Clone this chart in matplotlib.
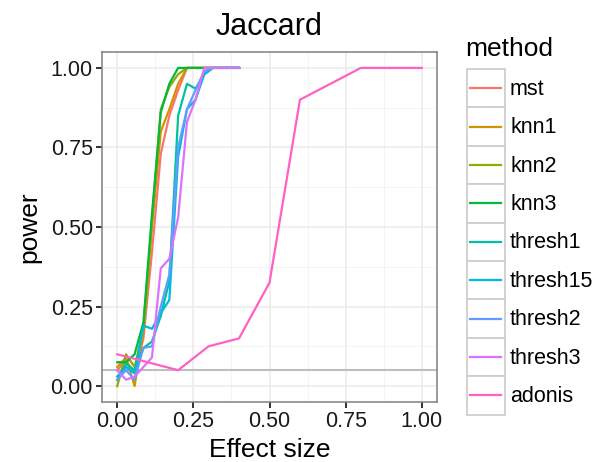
import matplotlib
matplotlib.use("Agg")
import matplotlib.pyplot as plt
from matplotlib.patches import Rectangle

# effect sizes used for the graph-based tests
effect = [0, 0.029, 0.057, 0.086, 0.114, 0.143, 0.171, 0.2, 0.229, 0.257,
          0.286, 0.314, 0.343, 0.371, 0.4]

mst = [0.05, 0.08, 0.04, 0.15, 0.42, 0.73, 0.85, 0.93, 1, 1, 1, 1, 1, 1, 1]
knn1 = [0.06, 0.09, 0.00, 0.17, 0.50, 0.80, 0.87, 0.95, 1, 1, 1, 1, 1, 1, 1]
knn2 = [0.00, 0.10, 0.06, 0.18, 0.52, 0.87, 0.94, 0.98, 1, 1, 1, 1, 1, 1, 1]
knn3 = [0.075, 0.075, 0.10, 0.20, 0.54, 0.86, 0.95, 1, 1, 1, 1, 1, 1, 1, 1]
thresh1 = [0.02, 0.07, 0.05, 0.12, 0.14, 0.22, 0.33, 0.85, 0.95, 0.935, 0.98, 1, 1, 1, 1]
thresh15 = [0.03, 0.06, 0.04, 0.19, 0.18, 0.23, 0.27, 0.72, 0.87, 0.90, 0.98, 1, 1, 1, 1]
thresh2 = [0.02, 0.05, 0.02, 0.12, 0.125, 0.25, 0.35, 0.75, 0.87, 0.93, 0.99, 1, 1, 1, 1]
thresh3 = [0.05, 0.02, 0.03, 0.06, 0.09, 0.37, 0.40, 0.53, 0.83, 0.90, 1, 1, 1, 1, 1]

# adonis was run on a wider range of effect sizes
adonis_effect = [0, 0.2, 0.3, 0.4, 0.5, 0.6, 0.8, 1.0]
adonis = [0.10, 0.05, 0.125, 0.15, 0.325, 0.90, 1.0, 1.0]

methods = ["mst", "knn1", "knn2", "knn3", "thresh1", "thresh15", "thresh2", "thresh3", "adonis"]
colors = ["#F8766D", "#D39200", "#93AA00", "#00BA38", "#00C19F", "#00B9E3", "#619CFF", "#DB72FB", "#FF61C3"]
alpha_level = 0.05

series = [mst, knn1, knn2, knn3, thresh1, thresh15, thresh2, thresh3]

plt.rcParams['font.family'] = ['Liberation Sans', 'DejaVu Sans']

fig = plt.figure(figsize=(5.96, 4.62), dpi=100)
W, H = 596, 462
ax = fig.add_axes([102 / W, 1 - 402 / H, (437 - 102) / W, (402 - 52) / H])

# grid like theme_bw
for v in [0.125, 0.375, 0.625, 0.875]:
    ax.axvline(v, color="#F2F2F2", lw=0.6, zorder=0)
    ax.axhline(v, color="#F2F2F2", lw=0.6, zorder=0)
for v in [0, 0.25, 0.5, 0.75, 1.0]:
    ax.axvline(v, color="#EBEBEB", lw=1.1, zorder=0)
    ax.axhline(v, color="#EBEBEB", lw=1.1, zorder=0)

for y, c in zip(series, colors[:8]):
    ax.plot(effect, y, color=c, lw=1.6, zorder=3)
ax.plot(adonis_effect, adonis, color=colors[8], lw=1.6, zorder=3)

ax.axhline(alpha_level, color="#BEBEBE", lw=1.5, zorder=2)

ax.set_xlim(-0.05, 1.05)
ax.set_ylim(-0.05, 1.05)
ax.set_xticks([0, 0.25, 0.5, 0.75, 1.0])
ax.set_yticks([0, 0.25, 0.5, 0.75, 1.0])
ax.set_xticklabels(["0.00", "0.25", "0.50", "0.75", "1.00"])
ax.set_yticklabels(["0.00", "0.25", "0.50", "0.75", "1.00"])
ax.tick_params(direction="out", length=4.5, width=1.3, color="#222222",
               labelsize=15.5, labelcolor="#1a1a1a", pad=2)
for s in ax.spines.values():
    s.set_color("#7F7F7F")
    s.set_linewidth(1.1)

ax.set_xlabel("Effect size", fontsize=19, labelpad=4)
ax.set_ylabel("power", fontsize=19, labelpad=7)
ax.set_title("Jaccard", fontsize=22, pad=12)

# legend drawn by hand to get the ggplot key boxes
lax = fig.add_axes([0, 0, 1, 1], facecolor="none")
lax.set_xlim(0, W)
lax.set_ylim(H, 0)
lax.axis("off")
lax.text(465, 49, "method", fontsize=19, va="center", ha="left")
key_top, key_h = 69, 38.4
for i, (m, c) in enumerate(zip(methods, colors)):
    y0 = key_top + i * key_h
    lax.add_patch(Rectangle((467, y0), 38, key_h, facecolor="#F2F2F2",
                            edgecolor="#CCCCCC", lw=1.2))
    lax.add_patch(Rectangle((468, y0 + 1), 36, key_h - 2, facecolor="white",
                            edgecolor="none"))
    lax.plot([470, 501], [y0 + key_h / 2] * 2, color=c, lw=1.6)
    lax.text(510, y0 + key_h / 2 + 1, m, fontsize=15.5, va="center", ha="left")

fig.savefig("out.png", dpi=100)
